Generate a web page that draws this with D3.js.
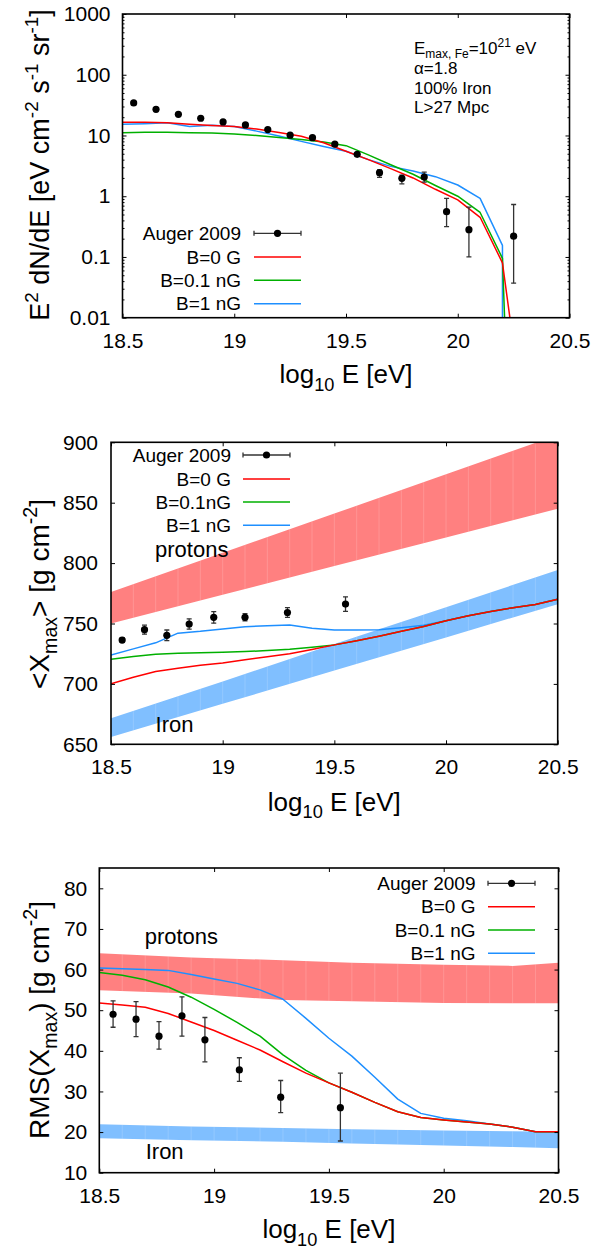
<!DOCTYPE html>
<html><head><meta charset="utf-8">
<script src="https://cdn.jsdelivr.net/npm/d3@7"></script>
<style>
body{margin:0;background:#fff}
svg text{font-family:"Liberation Sans",Arial,Helvetica,sans-serif;fill:#000}
</style>
</head><body>
<svg id="c" width="611" height="1249" xmlns="http://www.w3.org/2000/svg"></svg>
<script>
// ---------------- DATA ----------------
const xTicks = [18.5, 19, 19.5, 20, 20.5];
const gridE = [18.5,18.6,18.7,18.8,18.9,19.0,19.1,19.2,19.3,19.4,19.5,19.6,19.7,19.8,19.9,20.0,20.1,20.2,20.3,20.4,20.5];
const seriesNames = ["Auger 2009", "B=0 G", "B=0.1 nG", "B=1 nG"];
const seriesNamesMid = ["Auger 2009", "B=0 G", "B=0.1nG", "B=1 nG"];

// Panel 1: spectrum
const specTicks = [0.01, 0.1, 1, 10, 100, 1000];
const specTickLabels = ["0.01", "0.1", "1", "10", "100", "1000"];
const augerSpecE  = [18.55,18.65,18.75,18.85,18.95,19.05,19.15,19.25,19.35,19.45,19.55,19.65,19.75,19.85,19.95,20.05,20.25];
const augerSpec   = [34.3,27.0,22.3,19.2,16.7,14.9,12.5,10.1,9.2,7.2,4.9,2.44,1.97,2.07,0.557,0.281,0.22];
const augerSpecLo = [33.5,26.4,21.8,18.8,16.3,14.6,12.2,9.9,8.9,6.9,4.6,2.05,1.6,1.7,0.316,0.1,0.037];
const augerSpecHi = [35.2,27.6,22.8,19.6,17.1,15.2,12.8,10.3,9.5,7.5,5.2,2.7,2.22,2.5,0.925,0.66,0.73];
const specRedE = [18.5,18.6,18.7,18.8,18.9,19.0,19.1,19.2,19.3,19.4,19.5,19.6,19.7,19.8,19.9,20.0,20.1,20.2,20.235];
const specRed  = [16.5,16.5,16.2,15.3,14.6,14.1,12.8,11.2,9.7,7.6,5.5,4.0,2.85,2.0,1.3,0.87,0.45,0.08,0.009];
const specGrnE = [18.5,18.6,18.7,18.8,18.9,19.0,19.1,19.2,19.3,19.4,19.5,19.6,19.7,19.8,19.9,20.0,20.1,20.2,20.21];
const specGrn  = [11.1,11.3,11.3,11.1,11.0,10.6,10.0,9.3,8.6,7.8,6.8,4.8,3.3,2.3,1.5,1.0,0.54,0.095,0.009];
const specBluE = [18.5,18.6,18.7,18.8,18.9,19.0,19.1,19.2,19.3,19.4,19.5,19.6,19.7,19.8,19.9,20.0,20.1,20.2,20.2];
const specBlu  = [15.3,15.6,16.2,14.1,14.7,14.0,11.8,9.8,8.0,6.6,5.5,4.0,3.1,2.6,2.1,1.53,0.92,0.155,0.005];

// Panel 2: <Xmax>
const xmaxTicks = [650, 700, 750, 800, 850, 900];
const augerXmaxE   = [18.55,18.65,18.75,18.85,18.96,19.10,19.29,19.55];
const augerXmax    = [736.3,744.9,740.2,749.6,755.1,755.1,759.1,766.1];
const augerXmaxErr = [2.0,3.7,4.4,4.3,4.8,3.0,4.0,6.0];
const xmaxRed = [700,705.5,710.3,713,715.5,717.3,720,722.5,725,728.5,732.3,735.8,739.5,743.5,747.5,752.3,756.5,760,763,765.8,770];
const xmaxGrn = [720.4,722.7,724.5,725.3,725.8,726.3,726.8,727.6,728.6,730.3,732.3,735.8,739.5,743.5,747.5,752.3,756.5,760,763,765.8,770];
const xmaxBlu = [724,729,734,742,743.5,745.5,747.4,748.2,748.8,746,744.6,744.6,744.8,746.5,748.5,752.3,756.5,760,763,765.8,770];
const xmaxBandE = [18.5, 19.0, 19.5, 20.0, 20.5];
const xmaxProtHi = [776, 808.5, 841, 873.5, 906];
const xmaxProtLo = [750, 773.7, 797.5, 821.2, 845];
const xmaxIronHi = [671.5, 702, 733, 763.5, 794.3];
const xmaxIronLo = [656, 683.5, 711, 738.5, 766];

// Panel 3: RMS(Xmax)
const rmsTicks = [10, 20, 30, 40, 50, 60, 70, 80];
const augerRmsE  = [18.56,18.66,18.76,18.86,18.96,19.11,19.29,19.55];
const augerRms   = [49.0,47.8,43.6,48.6,42.7,35.3,28.6,26.0];
const augerRmsLo = [45.8,43.5,40.4,43.6,37.3,32.5,24.8,17.8];
const augerRmsHi = [52.3,52.1,47.2,53.3,48.2,38.3,32.7,34.5];
const rmsRed = [51.8,51.3,50.7,49.2,47.1,45.0,42.6,40.2,37.3,34.5,32.1,29.8,27.3,25.0,23.6,23.0,22.5,22.0,21.2,20.1,20.1];
const rmsGrn = [59.3,58.6,57.5,55.7,53.2,50.2,47.0,43.6,39.0,35.2,32.1,29.8,27.3,25.0,23.6,23.0,22.5,22.0,21.2,20.1,20.1];
const rmsBlu = [60.4,60.2,60.0,59.8,58.8,57.7,56.6,55.0,52.7,48.0,43.1,38.7,33.5,28.1,24.6,23.4,22.8,22.0,21.2,20.1,20.1];
const rmsBandE   = [18.5, 18.9, 19.3, 19.6, 20.0, 20.3, 20.5];
const rmsProtHi  = [64.0, 63.0, 62.3, 61.7, 61.2, 60.9, 61.7];
const rmsProtLo  = [54.9, 54.1, 52.5, 52.2, 51.8, 51.7, 51.7];
const rmsIronHi  = [21.9, 21.4, 21.0, 20.7, 20.4, 20.2, 20.1];
const rmsIronLo  = [18.5, 18.0, 17.6, 17.2, 16.7, 16.3, 16.0];

// ---------------- STYLE ----------------
const COL = {red:"#ff0000", green:"#00b000", blue:"#1e8fff", protBand:"#ff8080", ironBand:"#80bfff", pt:"#000", err:"#333"};
const svg = d3.select("#c");
const defs = svg.append("defs");
const seamSteps = d3.range(186, 205).map(v => v / 10);

function rich(sel, segs, size){
  let cur = 0;
  segs.forEach(([t, m]) => {
    const target = m === 1 ? -0.42 * size : (m === 2 ? 0.3 * size : 0);
    sel.append("tspan").attr("dy", target - cur).attr("font-size", m ? size * 0.7 : size).text(t);
    cur = target;
  });
}

function zip(xs, ys){ return xs.map((e, i) => ({e, v: ys[i]})); }

function makePanel(cfg){
  const x = d3.scaleLinear().domain([18.5, 20.5]).range([cfg.l, cfg.r]);
  const y = (cfg.log ? d3.scaleLog() : d3.scaleLinear()).domain(cfg.yDom).range([cfg.b, cfg.t]);
  const g = svg.append("g");
  const cid = "clip" + cfg.id;
  defs.append("clipPath").attr("id", cid).append("rect")
    .attr("x", cfg.l).attr("y", cfg.t).attr("width", cfg.r - cfg.l).attr("height", cfg.b - cfg.t);
  const plot = g.append("g").attr("clip-path", `url(#${cid})`);
  return {x, y, g, plot, cfg};
}

function band(P, E, lo, hi, color, id){
  const data = E.map((e, i) => ({e, lo: lo[i], hi: hi[i]}));
  const area = d3.area().x(d => P.x(d.e)).y0(d => P.y(d.lo)).y1(d => P.y(d.hi));
  P.plot.append("path").attr("d", area(data)).attr("fill", color);
  defs.append("clipPath").attr("id", id).append("path").attr("d", area(data));
  const sg = P.plot.append("g").attr("clip-path", `url(#${id})`);
  sg.selectAll("line").data(seamSteps).join("line")
    .attr("x1", d => P.x(d)).attr("x2", d => P.x(d))
    .attr("y1", P.cfg.t).attr("y2", P.cfg.b)
    .attr("stroke", "rgba(255,255,255,0.16)").attr("stroke-width", 1);
}

function curve(P, E, V, color){
  const line = d3.line().x(d => P.x(d.e)).y(d => P.y(d.v));
  P.plot.append("path").attr("d", line(zip(E, V)))
    .attr("fill", "none").attr("stroke", color).attr("stroke-width", 1.5).attr("stroke-linejoin", "round");
}

function points(P, E, V, lo, hi){
  const g = P.plot.append("g");
  E.forEach((e, i) => {
    const cx = P.x(e), y1 = P.y(lo[i]), y2 = P.y(hi[i]);
    g.append("line").attr("x1", cx).attr("x2", cx).attr("y1", y1).attr("y2", y2).attr("stroke", COL.err).attr("stroke-width", 1.3);
    [y1, y2].forEach(yy => g.append("line").attr("x1", cx - 2.5).attr("x2", cx + 2.5).attr("y1", yy).attr("y2", yy).attr("stroke", COL.err).attr("stroke-width", 1.3));
    g.append("circle").attr("cx", cx).attr("cy", P.y(V[i])).attr("r", 3.6).attr("fill", COL.pt);
  });
}

function axes(P, yTicks, yFmt, yMinor, yPad, xPad){
  const c = P.cfg;
  const style = s => s.attr("font-size", 21).attr("font-family", '"Liberation Sans",Arial,sans-serif')
    .call(a => a.select(".domain").remove())
    .call(a => a.selectAll("line").attr("stroke", "#000").attr("stroke-width", 1));
  P.g.append("g").attr("transform", `translate(0,${c.b})`)
    .call(d3.axisBottom(P.x).tickValues(xTicks).tickFormat(d => String(d)).tickSizeInner(-4).tickSizeOuter(0).tickPadding(xPad)).call(style);
  P.g.append("g").attr("transform", `translate(0,${c.t})`)
    .call(d3.axisTop(P.x).tickValues(xTicks).tickFormat("").tickSizeInner(-4).tickSizeOuter(0)).call(style);
  P.g.append("g").attr("transform", `translate(${c.l},0)`)
    .call(d3.axisLeft(P.y).tickValues(yTicks).tickFormat(yFmt).tickSizeInner(-4).tickSizeOuter(0).tickPadding(yPad)).call(style);
  P.g.append("g").attr("transform", `translate(${c.r},0)`)
    .call(d3.axisRight(P.y).tickValues(yTicks).tickFormat("").tickSizeInner(-4).tickSizeOuter(0)).call(style);
  if (yMinor){
    P.g.append("g").attr("transform", `translate(${c.l},0)`)
      .call(d3.axisLeft(P.y).tickValues(yMinor).tickFormat("").tickSizeInner(-2).tickSizeOuter(0)).call(style);
    P.g.append("g").attr("transform", `translate(${c.r},0)`)
      .call(d3.axisRight(P.y).tickValues(yMinor).tickFormat("").tickSizeInner(-2).tickSizeOuter(0)).call(style);
  }
  P.g.append("rect").attr("x", c.l).attr("y", c.t).attr("width", c.r - c.l).attr("height", c.b - c.t)
    .attr("fill", "none").attr("stroke", "#000").attr("stroke-width", 1.6);
  const xt = P.g.append("text").attr("x", (c.l + c.r) / 2).attr("y", c.xTitleY).attr("text-anchor", "middle");
  rich(xt, [["log", 0], ["10", 2], [" E [eV]", 0]], 26);
  const yt = P.g.append("text").attr("transform", `translate(49,${c.yTitleC}) rotate(-90)`).attr("text-anchor", "middle");
  rich(yt, c.yTitle, c.yTitleSize);
}

function legend(P, names, xr, x1, x2, ys){
  const g = P.g.append("g").attr("font-size", 19);
  const cols = [null, COL.red, COL.green, COL.blue];
  names.forEach((n, i) => {
    g.append("text").attr("x", xr).attr("y", ys[i]).attr("dy", "0.35em").attr("text-anchor", "end").text(n);
    if (i === 0){
      g.append("line").attr("x1", x1).attr("x2", x2).attr("y1", ys[i]).attr("y2", ys[i]).attr("stroke", COL.err).attr("stroke-width", 1.3);
      [x1, x2].forEach(xx => g.append("line").attr("x1", xx).attr("x2", xx).attr("y1", ys[i] - 2.5).attr("y2", ys[i] + 2.5).attr("stroke", COL.err).attr("stroke-width", 1.3));
      g.append("circle").attr("cx", (x1 + x2) / 2).attr("cy", ys[i]).attr("r", 3.6).attr("fill", COL.pt);
    } else {
      g.append("line").attr("x1", x1).attr("x2", x2).attr("y1", ys[i]).attr("y2", ys[i]).attr("stroke", cols[i]).attr("stroke-width", 1.5);
    }
  });
}

// ---------------- PANEL 1 ----------------
{
  const P = makePanel({id: 1, l: 122.5, r: 569.5, t: 14, b: 317.7, log: true, yDom: [0.01, 1000],
    xTitleY: 383.3, yTitleC: 165, yTitleSize: 27,
    yTitle: [["E", 0], ["2", 1], [" dN/dE [eV cm", 0], ["-2", 1], [" s", 0], ["-1", 1], [" sr", 0], ["-1", 1], ["]", 0]]});
  const minor = [];
  specTicks.slice(0, -1).forEach(d => [2,3,4,5,6,7,8,9].forEach(k => minor.push(d * k)));
  curve(P, specBluE, specBlu, COL.blue);
  curve(P, specGrnE, specGrn, COL.green);
  curve(P, specRedE, specRed, COL.red);
  points(P, augerSpecE, augerSpec, augerSpecLo, augerSpecHi);
  axes(P, specTicks, (d, i) => specTickLabels[i], minor, 12, 15);
  legend(P, seriesNames, 241, 254, 301, [233.3, 257, 280.3, 303.7]);
  const a = P.g.append("g").attr("font-size", 17);
  const t1 = a.append("text").attr("x", 414).attr("y", 54);
  t1.append("tspan").text("E");
  t1.append("tspan").attr("font-size", 12).attr("dy", 3.5).text("max, Fe");
  t1.append("tspan").attr("dy", -3.5).text("=10");
  t1.append("tspan").attr("font-size", 12).attr("dy", -7).text("21");
  t1.append("tspan").attr("dy", 7).text(" eV");
  a.append("text").attr("x", 414).attr("y", 74).text("\u03B1=1.8");
  a.append("text").attr("x", 414).attr("y", 93.5).text("100% Iron");
  a.append("text").attr("x", 414).attr("y", 112.5).text("L>27 Mpc");
}

// ---------------- PANEL 2 ----------------
{
  const P = makePanel({id: 2, l: 111, r: 557.7, t: 442.3, b: 744.3, log: false, yDom: [650, 900],
    xTitleY: 810.5, yTitleC: 594, yTitleSize: 28,
    yTitle: [["<X", 0], ["max", 2], ["> [g cm", 0], ["-2", 1], ["]", 0]]});
  band(P, xmaxBandE, xmaxProtLo, xmaxProtHi, COL.protBand, "bp2");
  band(P, xmaxBandE, xmaxIronLo, xmaxIronHi, COL.ironBand, "bi2");
  curve(P, gridE, xmaxBlu, COL.blue);
  curve(P, gridE, xmaxGrn, COL.green);
  curve(P, gridE, xmaxRed, COL.red);
  points(P, augerXmaxE, augerXmax, augerXmax.map((v, i) => v - augerXmaxErr[i]), augerXmax.map((v, i) => v + augerXmaxErr[i]));
  axes(P, xmaxTicks, d => String(d), null, 13, 15);
  legend(P, seriesNamesMid, 231, 243, 290, [455, 479, 502, 525.3]);
  P.g.append("text").attr("x", 155).attr("y", 556.7).attr("font-size", 22).text("protons");
  P.g.append("text").attr("x", 155.6).attr("y", 732.3).attr("font-size", 22).text("Iron");
}

// ---------------- PANEL 3 ----------------
{
  const P = makePanel({id: 3, l: 99.3, r: 558.5, t: 868, b: 1172.7, log: false, yDom: [10, 85],
    xTitleY: 1238.3, yTitleC: 1020, yTitleSize: 28,
    yTitle: [["RMS(X", 0], ["max", 2], [") [g cm", 0], ["-2", 1], ["]", 0]]});
  band(P, rmsBandE, rmsProtLo, rmsProtHi, COL.protBand, "bp3");
  band(P, rmsBandE, rmsIronLo, rmsIronHi, COL.ironBand, "bi3");
  curve(P, gridE, rmsBlu, COL.blue);
  curve(P, gridE, rmsGrn, COL.green);
  curve(P, gridE, rmsRed, COL.red);
  points(P, augerRmsE, augerRms, augerRmsLo, augerRmsHi);
  axes(P, rmsTicks, d => String(d), null, 12, 15);
  legend(P, seriesNames, 475.5, 488, 535, [883.3, 906.7, 930, 953.3]);
  P.g.append("text").attr("x", 144.7).attr("y", 944).attr("font-size", 22).text("protons");
  P.g.append("text").attr("x", 145.7).attr("y", 1159).attr("font-size", 22).text("Iron");
}
</script>
</body></html>
